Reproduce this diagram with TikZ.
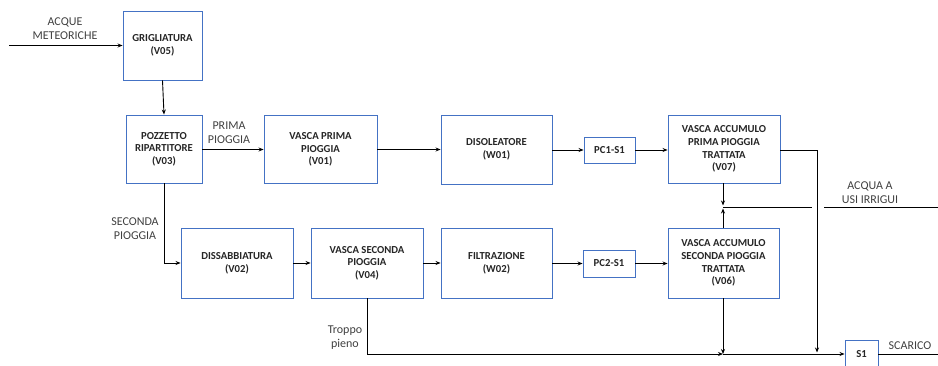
\documentclass[tikz,border=0pt]{standalone}
\usepackage{fontspec}
\setmainfont{Carlito}
\usetikzlibrary{arrows.meta}
\definecolor{boxblue}{RGB}{68,114,196}
\definecolor{labelgray}{RGB}{64,64,64}
\begin{document}
\begin{tikzpicture}[x=1pt,y=-1pt,
  unit/.style={draw=boxblue,line width=0.9pt,fill=white,align=center,
    font=\fontsize{10.7}{12.6}\selectfont\bfseries,text=black!85,inner sep=1pt},
  flow/.style={draw=black,line width=0.9pt,-{Stealth[length=5pt,width=4pt]}},
  pipe/.style={draw=black,line width=0.9pt},
  tag/.style={align=center,text=labelgray,font=\fontsize{12}{14}\selectfont,inner sep=0pt}]
\useasboundingbox (0,0) rectangle (938,365);

% treatment units, upper line
\node[unit,minimum width=79pt,minimum height=69pt] (grig) at (162.5,45.5) {GRIGLIATURA\\(V05)};
\node[unit,minimum width=76pt,minimum height=68pt] (pozz) at (164,149) {POZZETTO\\RIPARTITORE\\(V03)};
\node[unit,minimum width=113pt,minimum height=68pt] (vpp) at (320.5,149.5) {VASCA PRIMA\\PIOGGIA\\(V01)};
\node[unit,minimum width=111pt,minimum height=69pt] (diso) at (496.5,149.5) {DISOLEATORE\\(W01)};
\node[unit,minimum width=51pt,minimum height=26pt] (pc1) at (609.5,150) {PC1-S1};
\node[unit,minimum width=112pt,minimum height=68pt] (v07) at (724,149) {VASCA ACCUMULO\\PRIMA PIOGGIA\\TRATTATA\\(V07)};

% treatment units, lower line
\node[unit,minimum width=112pt,minimum height=70pt] (diss) at (237,263) {DISSABBIATURA\\(V02)};
\node[unit,minimum width=112pt,minimum height=70pt] (vsp) at (367,263) {VASCA SECONDA\\PIOGGIA\\(V04)};
\node[unit,minimum width=111pt,minimum height=70pt] (filt) at (496.5,263) {FILTRAZIONE\\(W02)};
\node[unit,minimum width=52pt,minimum height=27pt] (pc2) at (609,263.5) {PC2-S1};
\node[unit,minimum width=111pt,minimum height=70pt] (v06) at (723.5,263) {VASCA ACCUMULO\\SECONDA PIOGGIA\\TRATTATA\\(V06)};

% discharge point
\node[unit,minimum width=33pt,minimum height=28pt] (s1) at (861.5,354) {S1};

% free ends and junctions
\coordinate (src) at (9,45.5);
\coordinate (irr) at (723,207);
\coordinate (gapL) at (812,207);
\coordinate (gapR) at (824,207);
\coordinate (irrEnd) at (938,207);
\coordinate (ovf) at (723,354);
\coordinate (scEnd) at (938,354);
\coordinate (bypass) at (817,150);

% labels
\node[tag] (lacq) at (65,29) {ACQUE\\METEORICHE};
\node[tag] (lpp) at (229,133) {PRIMA\\PIOGGIA};
\node[tag] (lsp) at (135,229) {SECONDA\\PIOGGIA};
\node[tag] (ltp) at (345,338) {Troppo\\pieno};
\node[tag] (lirr) at (870,193) {ACQUA A\\USI IRRIGUI};
\node[tag] (lsc) at (910,346) {SCARICO};

% upper line flows
\draw[flow] (src) -- (grig.west |- src);
\draw[flow] (grig.south) -- (pozz.north);
\draw[flow] (pozz.east |- vpp) -- (vpp.west);
\draw[flow] (vpp.east) -- (diso.west |- vpp);
\draw[flow] (diso.east |- pc1) -- (pc1.west);
\draw[flow] (pc1.east) -- (v07.west |- pc1);

% lower line flows
\draw[flow] (pozz.south) |- (diss.west);
\draw[flow] (diss.east) -- (vsp.west);
\draw[flow] (vsp.east) -- (filt.west);
\draw[flow] (filt.east |- pc2) -- (pc2.west);
\draw[flow] (pc2.east) -- (v06.west |- pc2);

% reuse for irrigation
\draw[flow,shorten >=1.5pt] (v07.south -| irr) -- (irr);
\draw[flow,shorten >=1.5pt] (v06.north -| irr) -- (irr);
\draw[pipe] (irr) -- (gapL);
\draw[pipe] (gapR) -- (irrEnd);

% discharge
\draw[flow,shorten >=1.5pt] (v07.east |- bypass) -- (bypass) -- (bypass |- ovf);
\draw[flow] (vsp.south) |- (ovf);
\draw[flow] (v06.south -| ovf) -- (ovf);
\draw[flow] (ovf) -- (s1.west);
\draw[pipe] (s1.east) -- (scEnd);
\end{tikzpicture}
\end{document}
